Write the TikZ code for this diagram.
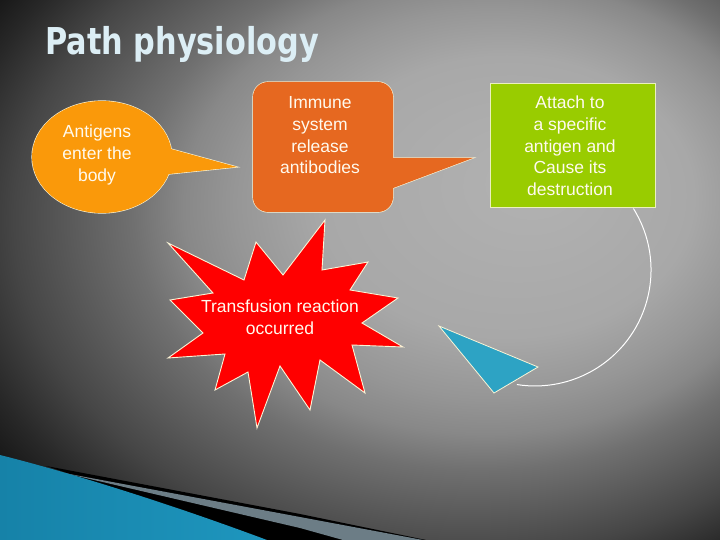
\documentclass[tikz,border=0pt]{standalone}
\usepackage{fontspec}
\usepackage{graphicx}
\setmainfont{Liberation Sans}
\newfontfamily\titlefont{DejaVu Sans}
\definecolor{bg0}{RGB}{178,178,178}
\definecolor{bg1}{RGB}{168,168,168}
\definecolor{bg2}{RGB}{150,150,150}
\definecolor{bg3}{RGB}{136,136,136}
\definecolor{bg4}{RGB}{112,112,112}
\definecolor{bg5}{RGB}{88,88,88}
\definecolor{bg6}{RGB}{70,70,70}
\definecolor{bg7}{RGB}{40,40,40}
\definecolor{bg8}{RGB}{14,14,14}
\definecolor{orangeA}{RGB}{250,153,10}
\definecolor{orangeB}{RGB}{230,104,32}
\definecolor{greenA}{RGB}{153,204,0}
\definecolor{greenOut}{RGB}{235,240,190}
\definecolor{outlc}{RGB}{250,245,215}
\definecolor{txtc}{RGB}{255,250,238}
\definecolor{blueTri}{RGB}{45,163,196}
\definecolor{blueL}{RGB}{22,130,168}
\definecolor{blueM}{RGB}{85,195,230}
\definecolor{blueR}{RGB}{30,150,190}
\definecolor{slateC}{RGB}{108,125,134}
\definecolor{titleC}{RGB}{220,238,245}
\pgfdeclareradialshading{bgshade}{\pgfpoint{12.5bp}{8.33bp}}{%
color(0bp)=(bg0); color(13bp)=(bg1); color(18bp)=(bg2); color(21bp)=(bg3);
color(24bp)=(bg4); color(28bp)=(bg5); color(31bp)=(bg6); color(35bp)=(bg7);
color(39bp)=(bg8); color(42bp)=(black); color(70bp)=(black)}
\begin{document}
\begin{tikzpicture}[x=1pt,y=-1pt,
  outl/.style={draw=outlc, line width=1.2pt},
  thinoutl/.style={draw=outlc, line width=0.8pt},
  txt/.style={font=\fontsize{17.5}{21.7}\selectfont, text=txtc, align=center, inner sep=0pt},
  titlestyle/.style={anchor=base west, inner sep=0pt, font=\titlefont\bfseries\fontsize{37}{40}\selectfont}]
\shade[shading=bgshade] (0,0) rectangle (720,540);
\useasboundingbox (0,0) rectangle (720,540);
% bottom-left decoration
\fill[black] (46,466) -- (300,514) -- (426,540) -- (250,540) -- (140,497) -- cycle;
\fill[slateC] (64,473) -- (300,517) -- (423,540) -- (343,540) -- (300,528) -- cycle;
\shade[left color=blueL, middle color=blueM, right color=blueR]
  (0,455) .. controls (60,470) and (160,500) .. (267,540) -- (0,540) -- cycle;
% title
\node[titlestyle, text=titleC] (title) at (45,55) {\scalebox{0.82}[1]{Path physiology}};
% orange ellipse callout
\path[outl] (102,157) ellipse [x radius=70, y radius=56];
\path[outl] (160,146) -- (237,167) -- (150,176) -- cycle;
\fill[orangeA] (102,157) ellipse [x radius=70, y radius=56];
\fill[orangeA] (160,146) -- (237,167) -- (150,176) -- cycle;
% immune callout
\path[outl, rounded corners=15pt] (253,82) rectangle (393,212);
\path[outl] (380,158) -- (473,158) -- (380,193) -- cycle;
\fill[orangeB, rounded corners=15pt] (253,82) rectangle (393,212);
\fill[orangeB] (380,158) -- (473,158) -- (380,193) -- cycle;
% green box
\draw[draw=greenOut, line width=0.8pt, fill=greenA] (490,83) rectangle (655,207);
% star
\draw[draw=outlc, line width=0.9pt, fill=red]
 (325,220) -- (322,270) -- (368,262) -- (350,290) -- (398,298) -- (362,323) --
 (403,347) -- (352,345) -- (365,393) -- (320,360) -- (310,410) -- (280,366) --
 (257,428) -- (248,372) -- (215,390) -- (225,354) -- (168,358) -- (203,333) --
 (170,300) -- (213,293) -- (168,243) -- (244,280) -- (256,242) -- (283,275) -- cycle;
% curved arrow
\coordinate (arcS) at (633.4,208.5);
\draw[white, line width=1pt] (arcS) arc[start angle=-32, end angle=99, radius=116] coordinate (arcE);
\draw[thinoutl, fill=blueTri] (439,326) -- (538,367) -- (494,393) -- cycle;
% texts
\node[txt] (antigen) at (97,155) {Antigens\\enter the\\body};
\node[txt] (immune) at (320,135.5) {Immune\\system\\release\\antibodies};
\node[txt] (attach) at (570,146) {Attach to\\a specific\\antigen and\\Cause its\\destruction};
\node[txt] (reaction) at (280,317) {Transfusion reaction\\occurred};
\end{tikzpicture}
\end{document}
